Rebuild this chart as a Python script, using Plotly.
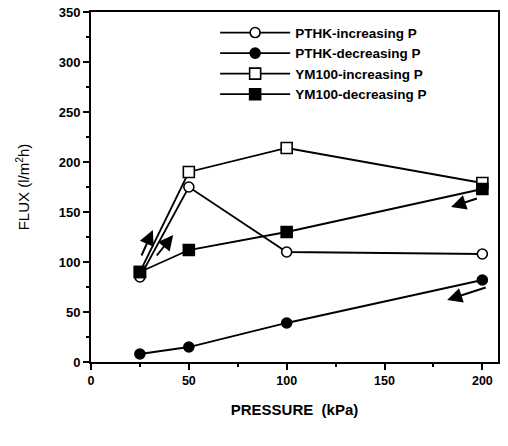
import plotly.graph_objects as go

pressure = [25, 50, 100, 200]
pthk_inc = [85, 175, 110, 108]
pthk_dec = [8, 15, 39, 82]
ym_inc = [90, 190, 214, 179]
ym_dec = [90, 112, 130, 173]

series_names = ["PTHK-increasing P", "PTHK-decreasing P", "YM100-increasing P", "YM100-decreasing P"]
series_vals = [pthk_inc, pthk_dec, ym_inc, ym_dec]
symbols = ["circle", "circle", "square", "square"]
fills = ["white", "black", "white", "black"]
sizes = [10, 10, 11, 11]

x_ticks = [0, 50, 100, 150, 200]
y_ticks = [0, 50, 100, 150, 200, 250, 300, 350]

# arrow annotations: (tail x, tail y, head x, head y)
arrows = [
    (25.5, 105, 31.6, 132),
    (33, 105, 42, 127),
    (198, 164, 184, 155),
    (202.5, 75, 182, 62),
]

fig = go.Figure()
for name, vals, sym, fc, sz in zip(series_names, series_vals, symbols, fills, sizes):
    fig.add_trace(go.Scatter(
        x=pressure, y=vals, name=name, mode="lines+markers",
        line=dict(color="black", width=1.8),
        marker=dict(symbol=sym, size=sz, color=fc, line=dict(color="black", width=1.6)),
    ))

for tx, ty, hx, hy in arrows:
    fig.add_annotation(
        x=hx, y=hy, ax=tx, ay=ty, xref="x", yref="y", axref="x", ayref="y",
        showarrow=True, arrowhead=2, arrowsize=1.5, arrowwidth=2, arrowcolor="black", text="",
    )

FAM = "Liberation Sans, Arial, sans-serif"

fig.update_layout(
    width=508, height=446,
    margin=dict(l=91, r=10, t=12, b=84),
    paper_bgcolor="white", plot_bgcolor="white",
    showlegend=True,
    legend=dict(
        x=0.305, y=0.985, xanchor="left", yanchor="top",
        font=dict(family=FAM, size=13.5, color="black", weight="bold"),
        bgcolor="rgba(0,0,0,0)", tracegroupgap=0, itemwidth=70,
    ),
    xaxis=dict(
        range=[0, 208], tickvals=x_ticks, ticks="outside", ticklen=6, tickwidth=1.5,
        tickcolor="black", showline=True, linecolor="black", linewidth=2, mirror=True,
        showgrid=False, zeroline=False, automargin=False,
        tickfont=dict(family=FAM, size=12.5, color="black", weight="bold"),
        minor=dict(ticks="outside", ticklen=3, dtick=25, tick0=0, tickcolor="black", showgrid=False),
        title=dict(text="PRESSURE  (kPa)", standoff=17,
                   font=dict(family=FAM, size=15, color="black", weight="bold")),
    ),
    yaxis=dict(
        range=[0, 350], tickvals=y_ticks, ticks="outside", ticklen=6, tickwidth=1.5,
        tickcolor="black", showline=True, linecolor="black", linewidth=2, mirror=True,
        showgrid=False, zeroline=False, automargin=False,
        tickfont=dict(family=FAM, size=13, color="black", weight="bold"),
        minor=dict(ticks="outside", ticklen=3, dtick=25, tick0=0, tickcolor="black", showgrid=False),
        title=dict(text="FLUX (l/m<sup>2</sup>h)", standoff=25,
                   font=dict(family=FAM, size=15, color="#000000")),
    ),
)

fig.write_html("out.html")
